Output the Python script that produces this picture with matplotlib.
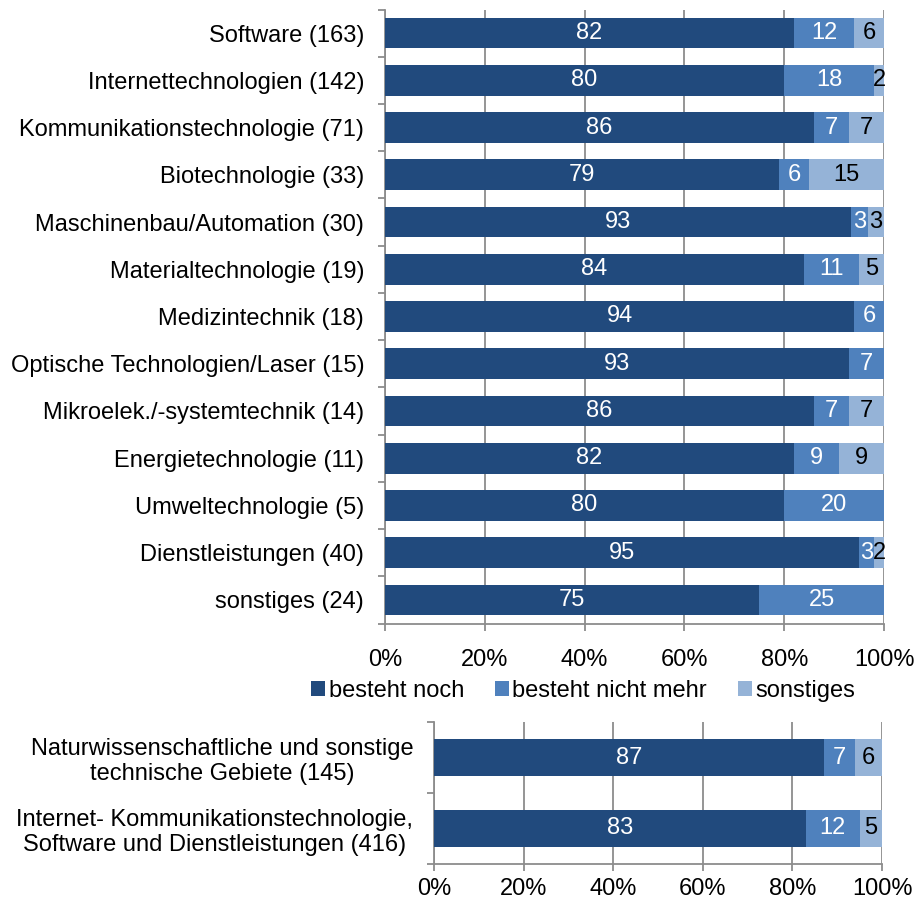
import matplotlib
matplotlib.use("Agg")
import matplotlib.pyplot as plt
from matplotlib.patches import Patch
import numpy as np

plt.rcParams['font.family'] = ['Liberation Sans', 'DejaVu Sans']

categories = ["Software (163)", "Internettechnologien (142)", "Kommunikationstechnologie (71)",
              "Biotechnologie (33)", "Maschinenbau/Automation (30)", "Materialtechnologie (19)",
              "Medizintechnik (18)", "Optische Technologien/Laser (15)", "Mikroelek./-systemtechnik (14)",
              "Energietechnologie (11)", "Umweltechnologie (5)", "Dienstleistungen (40)", "sonstiges (24)"]
besteht_noch = [82, 80, 86, 79, 93.4, 84, 94, 93, 86, 82, 80, 95, 75]
besteht_nicht_mehr = [12, 18, 7, 6, 3.3, 11, 6, 7, 7, 9, 20, 3, 25]
sonstiges = [6, 2, 7, 15, 3.3, 5, 0, 0, 7, 9, 0, 2, 0]

categories2 = ["Naturwissenschaftliche und sonstige\ntechnische Gebiete (145)",
               "Internet- Kommunikationstechnologie,\nSoftware und Dienstleistungen (416)"]
besteht_noch2 = [87, 83]
besteht_nicht_mehr2 = [7, 12]
sonstiges2 = [6, 5]

series_names = ["besteht noch", "besteht nicht mehr", "sonstiges"]
ticks = [0, 20, 40, 60, 80, 100]
tick_labels = ["0%", "20%", "40%", "60%", "80%", "100%"]

colors = ["#214A7D", "#4F81BD", "#95B3D7"]
text_colors = ["white", "white", "black"]
grid_col = "#8C8C8C"
FS = 17

W, H = 914, 906
fig = plt.figure(figsize=(W / 100, H / 100), dpi=100)

def px_axes(left, top, right, bottom):
    return fig.add_axes([left / W, 1 - bottom / H, (right - left) / W, (bottom - top) / H])

def draw(ax, cats, data, bar_h, xpad):
    n = len(cats)
    y = np.arange(n)
    left = np.zeros(n)
    for vals, c, tc in zip(data, colors, text_colors):
        vals = np.array(vals, dtype=float)
        ax.barh(y, vals, left=left, height=bar_h, color=c, edgecolor='none', zorder=3)
        for yi, (l, v) in enumerate(zip(left, vals)):
            if v > 0:
                ax.text(l + v / 2, yi, f"{v:.0f}", ha='center', va='center',
                        color=tc, fontsize=FS, zorder=4)
        left = left + vals
    ax.set_xlim(0, 100)
    ax.set_ylim(n - 0.5, -0.5)
    ax.set_xticks(ticks)
    ax.set_xticklabels(tick_labels, fontsize=FS)
    ax.xaxis.grid(True, color=grid_col, linewidth=1.3, zorder=0)
    ax.set_yticks(y)
    ax.set_yticklabels(cats, fontsize=FS)
    ax.tick_params(axis='y', length=0, pad=15)
    ax.set_yticks(np.arange(n + 1) - 0.5, minor=True)
    ax.tick_params(axis='y', which='minor', length=5, color=grid_col, width=1.3)
    ax.tick_params(axis='x', length=5, color=grid_col, width=1.3, pad=xpad)
    for s in ['top', 'right']:
        ax.spines[s].set_visible(False)
    for s in ['left', 'bottom']:
        ax.spines[s].set_color(grid_col)
        ax.spines[s].set_linewidth(1.3)
    return ax

ax1 = px_axes(385, 9.5, 884, 623.5)
draw(ax1, categories, [besteht_noch, besteht_nicht_mehr, sonstiges], 0.65, 13)

ax2 = px_axes(434, 722, 882, 864)
draw(ax2, categories2, [besteht_noch2, besteht_nicht_mehr2, sonstiges2], 0.53, 5)
for lbl in ax2.get_yticklabels():
    lbl.set_multialignment('center')

handles = [Patch(facecolor=c, edgecolor='none') for c in colors]
fig.legend(handles, series_names, loc='center', bbox_to_anchor=(583 / W, 1 - 691 / H),
           ncol=3, frameon=False, fontsize=FS, handlelength=0.6, handleheight=0.6,
           handletextpad=0.15, columnspacing=1.3, borderpad=0)

fig.savefig("out.png", dpi=100)
